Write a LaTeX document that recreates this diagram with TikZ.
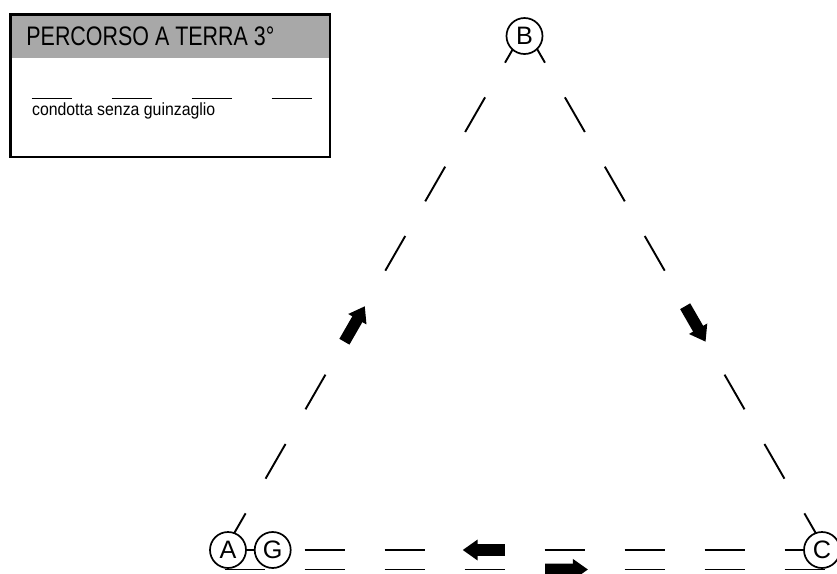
\documentclass[tikz,border=0pt]{standalone}
\usepackage{fontspec}
\usepackage{tikz}
\usetikzlibrary{arrows.meta,calc}
\newfontfamily\titlefont{Liberation Sans}[FakeStretch=0.8]
\newfontfamily\notefont{Liberation Sans}[FakeStretch=0.9]
\newfontfamily\stationfont{Liberation Sans}
\definecolor{headgray}{RGB}{168,168,168}
\tikzset{
  station/.style={circle,draw,line width=0.85pt,fill=white,inner sep=0pt,minimum size=18pt,font=\stationfont\fontsize{12.6}{14}\selectfont},
  trackline/.style={line width=0.95pt},
  skipfour/.style={dash pattern=on 20pt off 20pt on 20pt off 20pt on 20pt off 20pt on 20pt off 60pt on 20pt off 20pt on 20pt off 20pt on 20pt off 20pt},
  skipthree/.style={dash pattern=on 20pt off 20pt on 20pt off 20pt on 20pt off 60pt on 20pt off 20pt on 20pt off 20pt on 20pt off 20pt on 20pt off 20pt},
  walkarrow/.style={line width=5.8pt,-{Triangle[length=7.5pt,width=10pt]}},
  blank/.style={line width=0.75pt}
}

\begin{document}
\begin{tikzpicture}[x=0.5pt,y=-0.5pt]
\useasboundingbox (0,0) rectangle (837,574);
\fill[headgray] (10.5,14.5) rectangle (330,58.3);
\draw[line width=1.2pt] (10.5,14.5) rectangle (330,157);
\node[anchor=base west,inner sep=0pt,font=\titlefont\fontsize{13.4}{16}\selectfont] (title) at (26,45.7) {PERCORSO A TERRA 3°};
\foreach \k in {0,...,3}
  \draw[blank] (31.7+80*\k,98.7) -- ++(40,0);
\node[anchor=base west,inner sep=0pt,font=\notefont\fontsize{8.8}{10}\selectfont] (note) at (31.7,115) {condotta senza guinzaglio};

\coordinate (top) at (525,28);
\coordinate (bl) at (224.5,550);
\coordinate (br) at (825.5,550);
\coordinate (bl2) at (224.5,569.5);
\coordinate (br2) at (825.5,569.5);

\draw[trackline,skipfour] (top) -- (bl);
\draw[trackline,skipfour] (top) -- (br);
\draw[trackline,skipthree] (bl) -- (br);
\draw[trackline,skipfour] (bl2) -- (br2);

\draw[walkarrow] ($(top)!0.601!(bl)$) -- ($(top)!0.533!(bl)$);
\draw[walkarrow] ($(top)!0.533!(br)$) -- ($(top)!0.601!(br)$);
\draw[walkarrow] ($(bl)!0.4667!(br)$) -- ($(bl)!0.3963!(br)$);
\draw[walkarrow] ($(bl2)!0.5333!(br2)$) -- ($(bl2)!0.6048!(br2)$);

\node[station] (B) at (524.5,36) {B};
\node[station] (A) at (228,550) {A};
\node[station] (G) at (272.7,550) {G};
\node[station] (C) at (822,550) {C};
\draw[trackline] (A) -- (G);
\end{tikzpicture}
\end{document}
